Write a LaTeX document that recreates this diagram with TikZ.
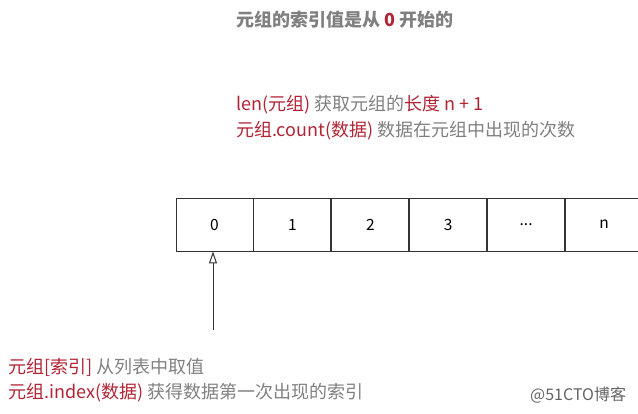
\documentclass[tikz,border=0pt]{standalone}
\usepackage{xcolor}
\usepackage{fontspec}
\setmainfont{Noto Sans CJK SC}
\usepackage{tikz}
\usetikzlibrary{positioning,arrows.meta}

\definecolor{tred}{RGB}{176,36,52}
\definecolor{tgray}{RGB}{128,128,128}
\definecolor{tline}{RGB}{51,51,51}

\tikzset{
  cell/.style={draw=tline, line width=0.9pt, minimum width=77pt, minimum height=53pt, inner sep=0pt, font=\fontsize{15.5}{18}\selectfont},
  note/.style={anchor=west, inner sep=0pt, text=tgray, font=\fontsize{18}{21}\selectfont},
}

\begin{document}
\begin{tikzpicture}[x=1pt,y=-1pt]
						\useasboundingbox (0,0) rectangle (638,413);
						\node [note, font=\fontsize{18}{21}\selectfont\bfseries] (title) at (236,20) {元组的索引值是从 \textcolor{tred}{0} 开始的};
						\node [note] (len) at (236,105) {\textcolor{tred}{len(元组)} 获取元组的\textcolor{tred}{长度 n + 1}};
						\node [note] (count) at (236,131) {\textcolor{tred}{元组.count(数据)} 数据在元组中出现的次数};
						\node [cell] (c0) at (214.5,224.5) {0};
						\node [cell, right=0pt of c0] (c1) {1};
						\node [cell, right=0pt of c1] (c2) {2};
						\node [cell, right=0pt of c2] (c3) {3};
						\node [cell, right=0pt of c3] (c4) {...};
						\node [cell, right=0pt of c4] (c5) {n};
						\coordinate (tail) at (213,330);
						\draw [color=tline, line width=1pt, -{Triangle[open, length=12pt, width=8pt]}] (tail) -- (tail |- c0.south);
						\node [note] (get) at (8,367) {\textcolor{tred}{元组[索引]} 从列表中取值};
						\node [note] (index) at (8,393) {\textcolor{tred}{元组.index(数据)} 获得数据第一次出现的索引};
						\node [note, text={rgb,255:red,100; green,100; blue,100}, font=\fontsize{16}{18}\selectfont] (mark) at (530,395) {@51CTO博客};
					\end{tikzpicture}
\end{document}
